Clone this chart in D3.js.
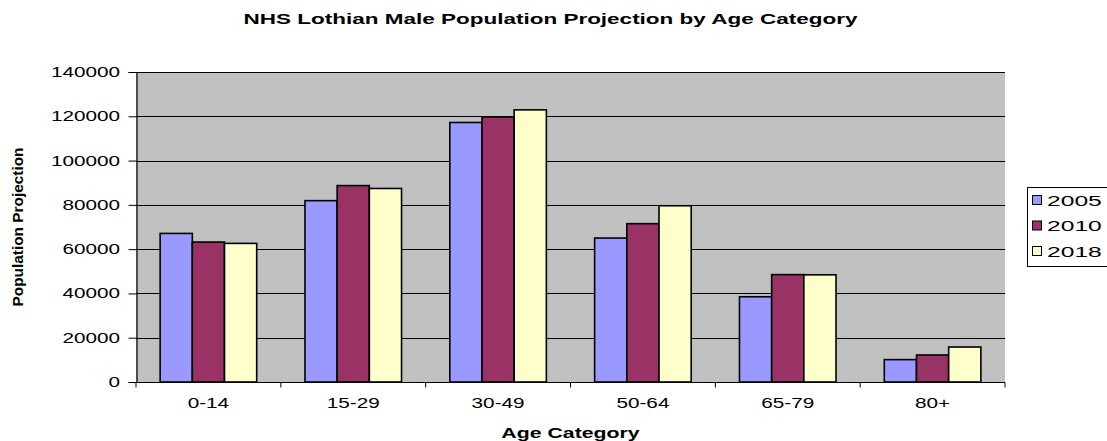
<!DOCTYPE html>
<html>
<head>
<meta charset="utf-8">
<script src="https://cdn.jsdelivr.net/npm/d3@7"></script>
<style>
  html, body { margin: 0; padding: 0; background: #fff; }
  svg { display: block; }
  text { font-family: "Liberation Sans", Arial, sans-serif; fill: #000; }
</style>
</head>
<body>
<svg id="chart" width="1107" height="441"></svg>
<script>
// Age bands and projected male population for each year
const categories = ["0-14", "15-29", "30-49", "50-64", "65-79", "80+"];
const years = ["2005", "2010", "2018"];
const pop2005 = [67100, 81900, 117200, 65000, 38500, 10100];
const pop2010 = [63200, 88700, 119700, 71500, 48500, 12200];
const pop2018 = [62600, 87400, 122900, 79600, 48400, 15800];
const yTicks = [0, 20000, 40000, 60000, 80000, 100000, 120000, 140000];
const colors = ["#9999FF", "#993366", "#FFFFCC"];

const seriesValues = [pop2005, pop2010, pop2018];

const svg = d3.select("#chart");
const plot = { left: 136, right: 1005, top: 72, bottom: 382 };
const SX = 1.48; // horizontal stretch of the lettering

const x = d3.scaleBand().domain(categories).range([plot.left, plot.right]).paddingInner(0).paddingOuter(0);
// Three bars per band with a gap 1.5 bar widths wide
const groupFrac = 3 / 4.5;
const xInner = d3.scaleBand().domain(years)
  .range([0, x.bandwidth() * groupFrac]);
const groupOffset = (x.bandwidth() - x.bandwidth() * groupFrac) / 2;
const y = d3.scaleLinear().domain([0, 140000]).range([plot.bottom, plot.top]);

// Plot area background
svg.append("rect")
  .attr("x", plot.left).attr("y", plot.top)
  .attr("width", plot.right - plot.left).attr("height", plot.bottom - plot.top)
  .attr("fill", "#C0C0C0");

// Horizontal gridlines
svg.append("g").selectAll("line").data(yTicks.filter(d => d > 0)).join("line")
  .attr("x1", plot.left).attr("x2", plot.right)
  .attr("y1", d => Math.round(y(d)) + 0.5).attr("y2", d => Math.round(y(d)) + 0.5)
  .attr("stroke", "#000").attr("stroke-width", 1);

// Bars
const rows = categories.map((c, i) => ({ cat: c, vals: years.map((yr, j) => ({ yr, v: seriesValues[j][i], j })) }));
svg.append("g").selectAll("g").data(rows).join("g")
  .attr("transform", d => `translate(${x(d.cat) + groupOffset},0)`)
  .selectAll("rect").data(d => d.vals).join("rect")
  .attr("x", d => xInner(d.yr))
  .attr("y", d => y(d.v))
  .attr("width", xInner.bandwidth())
  .attr("height", d => y(0) - y(d.v))
  .attr("fill", d => colors[d.j])
  .attr("stroke", "#000")
  .attr("stroke-width", 1.6);

// Y axis
const yAxis = d3.axisLeft(y).tickValues(yTicks).tickSize(8).tickFormat(d3.format("d"));
const gy = svg.append("g").attr("transform", `translate(${plot.left + 0.5},0)`).call(yAxis);
gy.select(".domain").attr("stroke", "#000").attr("stroke-width", 1.2);
gy.selectAll(".tick line").attr("stroke", "#000");
gy.selectAll(".tick text").remove();
svg.append("g").selectAll("text").data(yTicks).join("text")
  .attr("transform", d => `translate(120,${y(d) + 5}) scale(${SX},1)`)
  .attr("text-anchor", "end")
  .attr("font-size", 14)
  .text(d3.format("d"));

// X axis with ticks at band boundaries
const xAxisG = svg.append("g").attr("transform", `translate(0,${plot.bottom + 0.5})`);
xAxisG.append("line").attr("x1", plot.left).attr("x2", plot.right)
  .attr("stroke", "#000").attr("stroke-width", 1.2);
const bounds = categories.map(c => x(c)).concat([plot.right]);
xAxisG.selectAll("line.tk").data(bounds).join("line").attr("class", "tk")
  .attr("x1", d => d).attr("x2", d => d).attr("y1", 0).attr("y2", 5)
  .attr("stroke", "#000");
svg.append("g").selectAll("text").data(categories).join("text")
  .attr("transform", d => `translate(${x(d) + x.bandwidth() / 2},408) scale(${SX},1)`)
  .attr("text-anchor", "middle")
  .attr("font-size", 14)
  .text(d => d);

// Titles
svg.append("text")
  .attr("transform", `translate(550.5,24) scale(1.5,1)`)
  .attr("text-anchor", "middle")
  .attr("font-size", 15).attr("font-weight", "bold")
  .text("NHS Lothian Male Population Projection by Age Category");

svg.append("text")
  .attr("transform", `translate(${(plot.left + plot.right) / 2},438) scale(1.52,1)`)
  .attr("text-anchor", "middle")
  .attr("font-size", 14).attr("font-weight", "bold")
  .text("Age Category");

svg.append("text")
  .attr("transform", `translate(23,227) scale(1.15,1) rotate(-90)`)
  .attr("text-anchor", "middle")
  .attr("font-size", 12).attr("font-weight", "bold")
  .attr("textLength", 159).attr("lengthAdjust", "spacingAndGlyphs")
  .text("Population Projection");

// Legend
const legend = svg.append("g");
legend.append("rect")
  .attr("x", 1027.5).attr("y", 187.5).attr("width", 90).attr("height", 79)
  .attr("fill", "#fff").attr("stroke", "#000").attr("stroke-width", 1);
const legendRows = [200, 225.5, 251];
const li = legend.selectAll("g.item").data(years).join("g").attr("class", "item")
  .attr("transform", (d, i) => `translate(0,${legendRows[i]})`);
li.append("rect")
  .attr("x", 1032.5).attr("y", -4.5).attr("width", 9).attr("height", 9)
  .attr("fill", (d, i) => colors[i]).attr("stroke", "#000").attr("stroke-width", 1);
li.append("text")
  .attr("transform", `translate(1047,5.5) scale(1.7,1)`)
  .attr("font-size", 14.5)
  .text(d => d);
</script>
</body>
</html>
